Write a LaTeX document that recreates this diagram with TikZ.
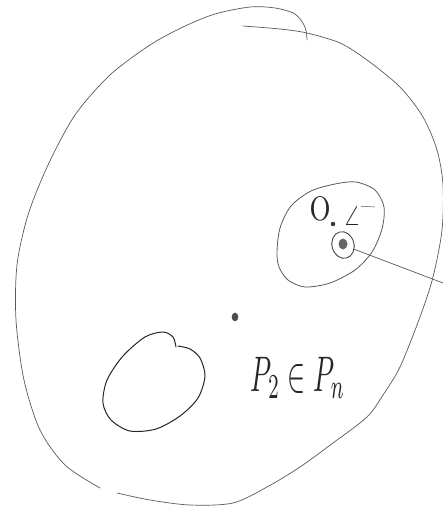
\documentclass[tikz,border=0pt]{standalone}
\usepackage{graphicx}
\usetikzlibrary{shapes.geometric}
\begin{document}
\begin{tikzpicture}[x=1pt,y=-1pt,
  pencil/.style={draw=black!65, line width=0.7pt, line cap=round, line join=round},
  ink/.style={draw=black!85, line width=1pt, line cap=round, line join=round},
  handtext/.style={inner sep=0pt, text=black!85}]
\useasboundingbox (0,0) rectangle (443,517);
% main oval, stroke A (top-left, curling at the top)
\draw[pencil] plot[smooth] coordinates {(307,40) (305,27) (295,14) (275,8) (250,7) (215,14) (183,27) (150,45) (110,75) (75,115) (48,165) (28,215) (17,265) (16,320) (24,380) (40,430) (65,465) (100,488)};
% main oval, stroke B (right side and bottom)
\draw[pencil] plot[smooth] coordinates {(243,26) (280,29) (307,33) (340,43) (367,60) (400,87) (423,117) (437,150) (443,185) (442,230) (433,277) (420,317) (400,367) (383,395) (367,417) (333,443) (300,467) (267,487) (233,503) (190,505) (150,500) (117,493)};
% right oval
\draw[pencil, line width=0.8pt] plot[smooth cycle] coordinates {(277,252) (280,228) (291,206) (311,191) (335,184) (356,182) (375,190) (384,207) (382,229) (372,252) (355,270) (330,283) (305,287) (288,280) (279,267)};
% O, dot and angle
\node[handtext] (o) at (320,209) {\scalebox{2.7}[3.4]{\fontsize{10}{12}\selectfont O}};
\fill[black!80] (333,224) circle[radius=2.2];
\node[handtext, anchor=south west] (ang) at (343,225) {\scalebox{2.8}[2.8]{$\angle$}};
\coordinate (angend) at (375,207);
\draw[pencil, line width=0.5pt] (ang.north east) -- (angend);
% small circle with point
\node[ellipse, draw=black!80, line width=0.8pt, minimum width=22pt, minimum height=27pt, inner sep=0pt, rotate=15] (inner) at (343,245) {};
\fill[black!60] (343,244) ellipse[x radius=4.5, y radius=5.5];
\coordinate (out) at (443,283);
\draw[pencil] (inner) -- (out);
% center point
\fill[black!70] (235,317) ellipse[x radius=3.3, y radius=4.3];
% lower-left blob
\draw[ink] plot[smooth] coordinates {(176,347) (173,337) (163,332) (145,337) (123,356) (107,380) (103,403) (111,420) (130,431) (156,429) (180,416) (198,398) (205,376) (200,358) (190,349) (178,346)};
% label
\node[handtext] (rel) at (298,378) {\scalebox{2.7}[5]{$P_2\in P_n$}};
\end{tikzpicture}
\end{document}
